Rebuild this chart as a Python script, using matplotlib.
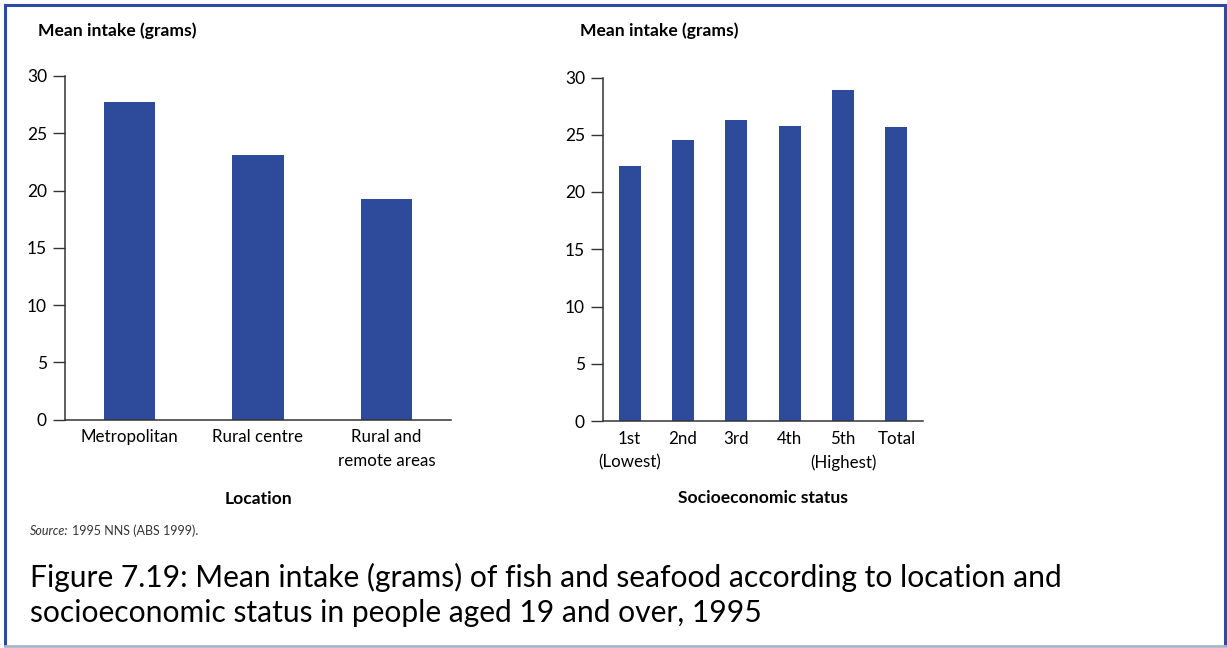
import matplotlib
matplotlib.use("Agg")
import matplotlib.pyplot as plt
from matplotlib.lines import Line2D

# Data
loc_categories = ["Metropolitan", "Rural centre", "Rural and\nremote areas"]
loc_values = [27.7, 23.1, 19.3]
ses_categories = ["1st\n(Lowest)", "2nd", "3rd", "4th", "5th\n(Highest)", "Total"]
ses_values = [22.3, 24.5, 26.3, 25.8, 28.9, 25.7]
y_ticks = [0, 5, 10, 15, 20, 25, 30]

BAR = "#2e4a9b"
FONT = "Lato"
plt.rcParams['font.family'] = [FONT, 'DejaVu Sans']

W, H = 1227, 648
fig = plt.figure(figsize=(W / 100, H / 100), dpi=100)

def fx(px):
    return px / W

def fy(py):
    return 1 - py / H

def setup(ax, cats, vals, width):
    x = [i + 0.5 for i in range(len(cats))]
    ax.bar(x, vals, width=width, color=BAR, zorder=2)
    ax.set_xlim(0, len(cats))
    ax.set_ylim(0, 30)
    ax.set_yticks(y_ticks)
    ax.set_xticks(x)
    ax.set_xticklabels(cats, fontsize=12.2, linespacing=1.6)
    ax.tick_params(axis='x', length=0, pad=7)
    ax.tick_params(axis='y', length=9, width=1, color="#333333", labelsize=12.5, pad=4, direction='out')
    for s in ("top", "right"):
        ax.spines[s].set_visible(False)
    for s in ("left", "bottom"):
        ax.spines[s].set_color("#333333")
        ax.spines[s].set_linewidth(1.1)

ax1 = fig.add_axes([fx(65), fy(419.5), fx(451 - 65), fy(76) - fy(419.5)])
setup(ax1, loc_categories, loc_values, 0.4)
ax2 = fig.add_axes([fx(603), fy(421), fx(923 - 603), fy(77.5) - fy(421)])
setup(ax2, ses_categories, ses_values, 0.41)

fig.text(fx(38), fy(31), "Mean intake (grams)", fontsize=12.6, fontweight='bold', va='center', ha='left')
fig.text(fx(580), fy(31), "Mean intake (grams)", fontsize=12.6, fontweight='bold', va='center', ha='left')
fig.text(fx(258), fy(499), "Location", fontsize=12.6, fontweight='bold', va='center', ha='center')
fig.text(fx(763), fy(498), "Socioeconomic status", fontsize=12.6, fontweight='bold', va='center', ha='center')

src1 = fig.text(fx(30), fy(531), "Source:", fontsize=9, style='italic', va='center', ha='left', color="#333333")
fig.canvas.draw()
bb = src1.get_window_extent(renderer=fig.canvas.get_renderer())
fig.text((bb.x1 + 4) / W, fy(531), "1995 NNS (ABS 1999).", fontsize=9, va='center', ha='left', color="#333333")

fig.text(fx(30), fy(577), "Figure 7.19: Mean intake (grams) of fish and seafood according to location and",
         fontsize=21.6, va='center', ha='left')
fig.text(fx(30), fy(613), "socioeconomic status in people aged 19 and over, 1995",
         fontsize=21.6, va='center', ha='left')

# Frame
fig.add_artist(Line2D([fx(5), fx(1225)], [fy(5), fy(5)], color="#2f4aa6", lw=2.2))
fig.add_artist(Line2D([fx(5), fx(5)], [fy(5), fy(645)], color="#2f4aa6", lw=2.2))
fig.add_artist(Line2D([fx(1225), fx(1225)], [fy(5), fy(645)], color="#2f4aa6", lw=2.2))
fig.add_artist(Line2D([fx(5), fx(1225)], [fy(645.5), fy(645.5)], color="#aab4d0", lw=2))

fig.savefig("out.png", dpi=100)
